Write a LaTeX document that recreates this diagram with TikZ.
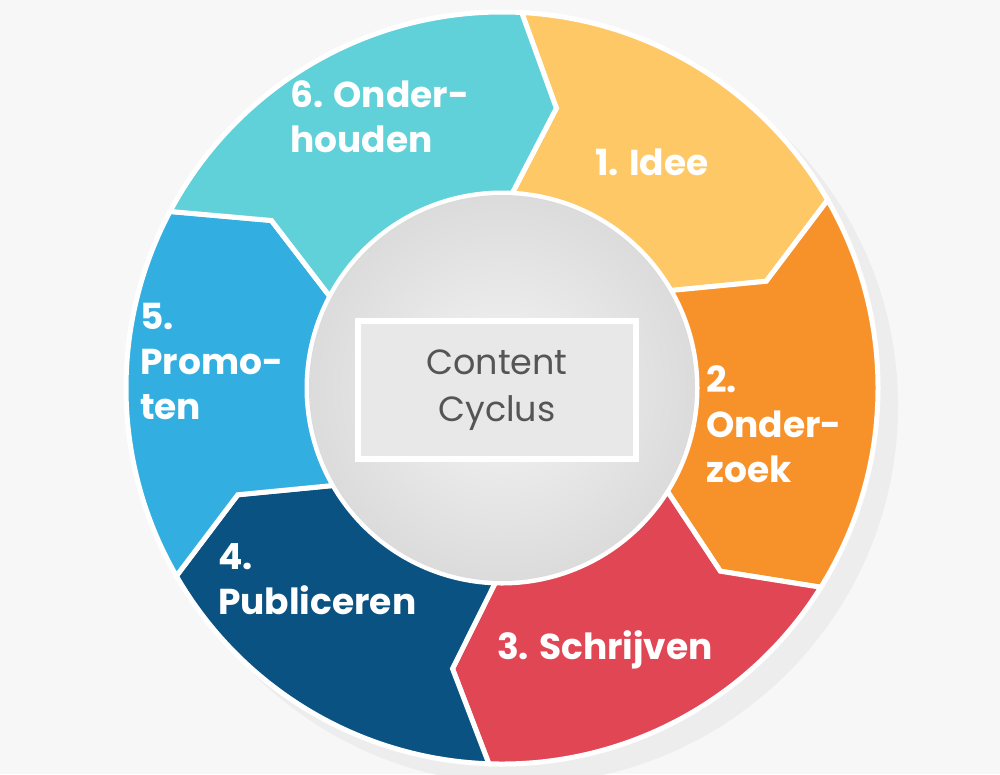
\documentclass[tikz,border=0pt]{standalone}
\usepackage{fontspec}
\setmainfont{Poppins}
\definecolor{cyel}{HTML}{FDC865}
\definecolor{cora}{HTML}{F7922B}
\definecolor{cred}{HTML}{E14655}
\definecolor{cdbl}{HTML}{0A5282}
\definecolor{clbl}{HTML}{33AEE0}
\definecolor{ctea}{HTML}{60D0D9}
\definecolor{ctxt}{HTML}{555555}
\tikzset{
  seg/.style={draw=white,line width=5pt,line join=miter},
  lbl/.style={text=white,font=\fontsize{36}{45}\selectfont\bfseries,align=left,inner sep=0pt},
}
\newcommand{\segment}[3]{% a, b, color
  \fill[#3,seg] (#1:376pt) arc[start angle=#1,end angle=#2,radius=376pt]
    -- (#2-8:285pt) -- (#2:195pt) arc[start angle=#2,end angle=#1,radius=195pt]
    -- (#1-8:285pt) -- cycle;}
\begin{document}
\begin{tikzpicture}[x=1pt,y=-1pt]
\useasboundingbox (0,0) rectangle (1000,774);
\fill[gray!6] (0,0) rectangle (1000,774);
\coordinate (c) at (502,388);
\fill[gray!14] (c) ++(18pt,-18pt) circle (378pt);
\begin{scope}[shift={(c)}]
\segment{87}{30}{cyel}
\segment{30}{-32}{cora}
\segment{-32}{-92}{cred}
\segment{-92}{-150}{cdbl}
\segment{-150}{-208}{clbl}
\segment{152}{87}{ctea}
\shade[inner color=gray!8,outer color=gray!28] (0,0) circle (193pt);
\end{scope}
\node[draw=white,line width=6pt,fill=gray!18,minimum width=278pt,minimum height=138pt] (box) at (497,390) {};
\node[text=ctxt,font=\fontsize{35}{47}\selectfont,align=center] (ct) at (box) {Content\\Cyclus};
\node[lbl,anchor=north west] (l6) at (290,80) {6. Onder-\\houden};
\node[lbl] (l1) at (652,162) {1. Idee};
\node[lbl,anchor=north west] (l2) at (706,365) {2.\\Onder-\\zoek};
\node[lbl] (l3) at (605,650) {3. Schrijven};
\node[lbl,anchor=north west] (l4) at (218,543) {4.\\Publiceren};
\node[lbl,anchor=north west] (l5) at (140,303) {5.\\Promo-\\ten};
\end{tikzpicture}
\end{document}
